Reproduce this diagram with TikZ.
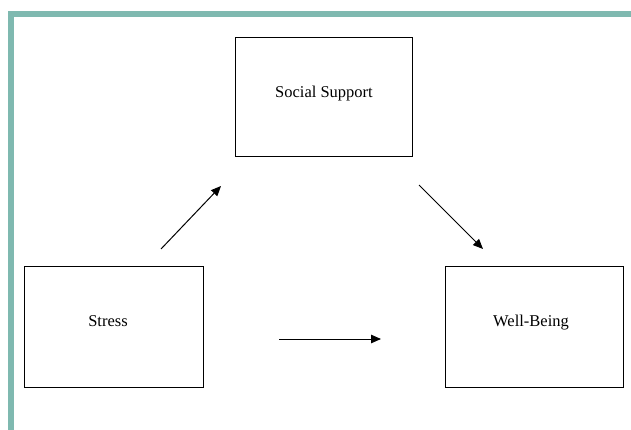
\documentclass[tikz,border=0pt]{standalone}
\usepackage{fontspec}
\setmainfont{Liberation Serif}
\usetikzlibrary{arrows.meta}
\definecolor{bordercol}{HTML}{7FB9B0}
\begin{document}
\begin{tikzpicture}[x=1pt,y=-1pt,
  box/.style={draw=black,line width=1pt},
  lbl/.style={font=\fontsize{16.5}{20}\selectfont,inner sep=0pt,anchor=base},
  conn/.style={draw=black,line width=1pt,-{Triangle[length=10pt,width=8.5pt]}}]
\useasboundingbox (0,0) rectangle (631,430);
\fill[bordercol] (8,11) rectangle (631,17);
\fill[bordercol] (8,11) rectangle (14,430);
\draw[box] (235,38) rectangle (412,157);
\draw[box] (24,266) rectangle (203,387);
\draw[box] (445,266) rectangle (623,387);
\node[lbl] (ss) at (324,98) {Social Support};
\node[lbl] (st) at (108,326) {Stress};
\node[lbl] (wb) at (531,326) {Well-Being};
\coordinate (a1) at (161,249);
\coordinate (a2) at (221,186);
\coordinate (b1) at (419,185);
\coordinate (b2) at (483,249);
\coordinate (c1) at (279,339);
\coordinate (c2) at (381,339);
\draw[conn] (a1) -- (a2);
\draw[conn] (b1) -- (b2);
\draw[conn] (c1) -- (c2);
\end{tikzpicture}
\end{document}
